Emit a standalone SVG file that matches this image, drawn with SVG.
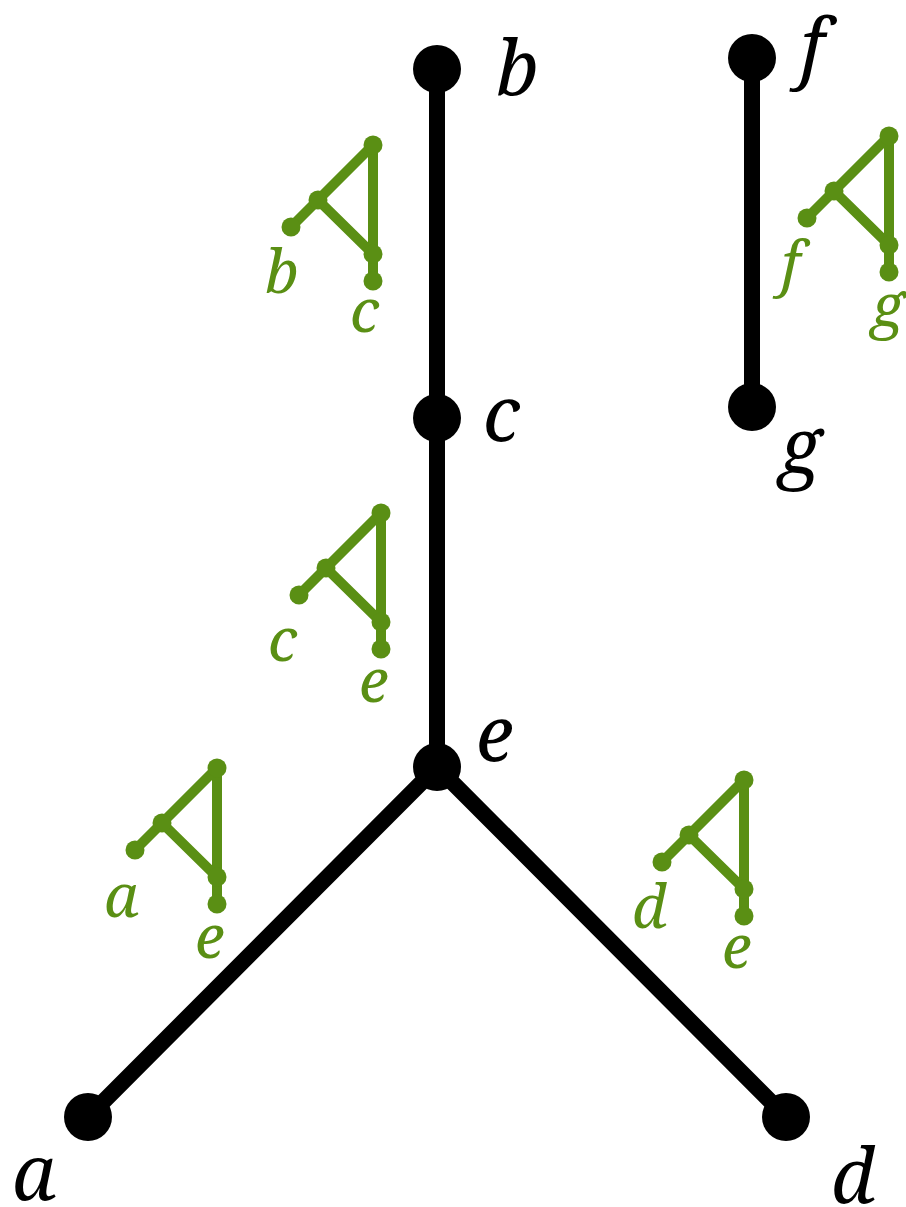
<svg xmlns="http://www.w3.org/2000/svg" width="906" height="1207" viewBox="0 0 906 1207">
<style>
.e{stroke:#000;stroke-width:16;fill:none}
.g{stroke:#5a8f14;stroke-width:10;fill:none;stroke-linejoin:round}
.gd{fill:#5a8f14}
.bl{font-family:"Noto Serif","DejaVu Serif","Liberation Serif",serif;font-style:italic;font-size:76px;fill:#000}
.gl{font-family:"Noto Serif","DejaVu Serif","Liberation Serif",serif;font-style:italic;font-size:60px;fill:#5a8f14}
</style>
<defs>
<g id="m">
<path class="g" d="M0 0L82-82V27M27-27L82 27V54"/>
<circle class="gd" cx="0" cy="0" r="9.5"/><circle class="gd" cx="27" cy="-27" r="9.5"/><circle class="gd" cx="82" cy="-82" r="9.5"/><circle class="gd" cx="82" cy="27" r="9.5"/><circle class="gd" cx="82" cy="54" r="9.5"/>
</g>
</defs>
<g id="connectors">
<path class="e" d="M437 69V767M88 1117L437 767L786 1117M752 58V407"/>
</g>
<g id="node-b"><circle cx="437" cy="69" r="24"/><text class="bl" x="496" y="95">b</text></g>
<g id="node-c"><circle cx="437" cy="418" r="24"/><text class="bl" x="483" y="441">c</text></g>
<g id="node-e"><circle cx="437" cy="767" r="24"/><text class="bl" x="476" y="761">e</text></g>
<g id="node-a"><circle cx="88" cy="1117" r="24"/><text class="bl" x="12" y="1200">a</text></g>
<g id="node-d"><circle cx="786" cy="1117" r="24"/><text class="bl" x="831" y="1203">d</text></g>
<g id="node-f"><circle cx="752" cy="58" r="24"/><text class="bl" x="800" y="74">f</text></g>
<g id="node-g"><circle cx="752" cy="407" r="24"/><text class="bl" x="779" y="474">g</text></g>
<g id="motif-bc"><use href="#m" x="291" y="227"/><text class="gl" x="265" y="293">b</text><text class="gl" x="350" y="332">c</text></g>
<g id="motif-ce"><use href="#m" x="299" y="595"/><text class="gl" x="268" y="661">c</text><text class="gl" x="359" y="702">e</text></g>
<g id="motif-ae"><use href="#m" x="135" y="850"/><text class="gl" x="104" y="917">a</text><text class="gl" x="195" y="958">e</text></g>
<g id="motif-de"><use href="#m" x="662" y="862"/><text class="gl" x="632" y="928">d</text><text class="gl" x="722" y="968">e</text></g>
<g id="motif-fg"><use href="#m" x="807" y="218"/><text class="gl" x="781" y="285">f</text><text class="gl" x="871" y="327">g</text></g>
</svg>
